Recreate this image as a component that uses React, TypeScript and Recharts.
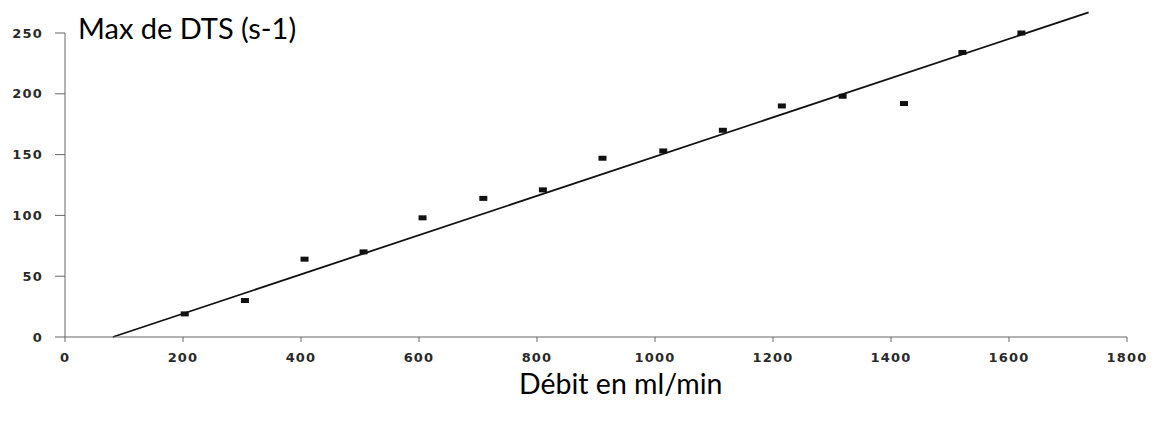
import { ReferenceLine, Scatter, ScatterChart, XAxis, YAxis } from "recharts";

// débit (ml/min)
const debit = [203, 305, 406, 506, 606, 709, 810, 911, 1014, 1115, 1215, 1318, 1422, 1521, 1621];
// max DTS (s-1)
const maxDts = [19, 30, 64, 70, 98, 114, 121, 147, 153, 170, 190, 198, 192, 234, 250];

const xTicks = [0, 200, 400, 600, 800, 1000, 1200, 1400, 1600, 1800];
const yTicks = [0, 50, 100, 150, 200, 250];

// regression line end points
const fitStart = { x: 81, y: 0 };
const fitEnd = { x: 1735, y: 267 };

const points = debit.map((x, i) => ({ x, y: maxDts[i] }));

const tickStyle = {
  fill: "#2a2a2a",
  fontSize: 13,
  fontFamily: "DejaVu Sans",
  fontWeight: 600,
  letterSpacing: 1.2,
};

const titleStyle: React.CSSProperties = {
  position: "absolute",
  fontFamily: "Lato, 'Open Sans', sans-serif",
  fontSize: 29,
  color: "#000",
  whiteSpace: "nowrap",
  lineHeight: 1,
};

const Marker = (props: any) => {
  const { cx, cy } = props;
  if (cx == null || cy == null) return null;
  return <rect x={cx - 4} y={cy - 2.5} width={8} height={5} fill="#111" />;
};

export default function App() {
  return (
    <div style={{ position: "absolute", left: 0, top: 0, width: 1156, height: 421, background: "#fff" }}>
      <ScatterChart
        width={1156}
        height={421}
        margin={{ top: 33, right: 29, bottom: 54, left: 0 }}
      >
        <XAxis
          type="number"
          dataKey="x"
          domain={[0, 1800]}
          ticks={xTicks}
          interval={0}
          height={30}
          stroke="#666"
          tickSize={5}
          tickMargin={11}
          tick={tickStyle}
        />
        <YAxis
          type="number"
          dataKey="y"
          domain={[0, 250]}
          ticks={yTicks}
          interval={0}
          width={65}
          stroke="#666"
          tickSize={10}
          tickMargin={12}
          tick={tickStyle}
        />
        <ReferenceLine
          segment={[fitStart, fitEnd]}
          stroke="#111"
          strokeWidth={1.8}
          ifOverflow="visible"
        />
        <Scatter data={points} shape={<Marker />} isAnimationActive={false} />
      </ScatterChart>
      <div style={{ ...titleStyle, left: 78, top: 13 }}>Max de DTS (s-1)</div>
      <div style={{ ...titleStyle, left: 519, top: 369, fontSize: 28.5 }}>Débit en ml/min</div>
    </div>
  );
}
